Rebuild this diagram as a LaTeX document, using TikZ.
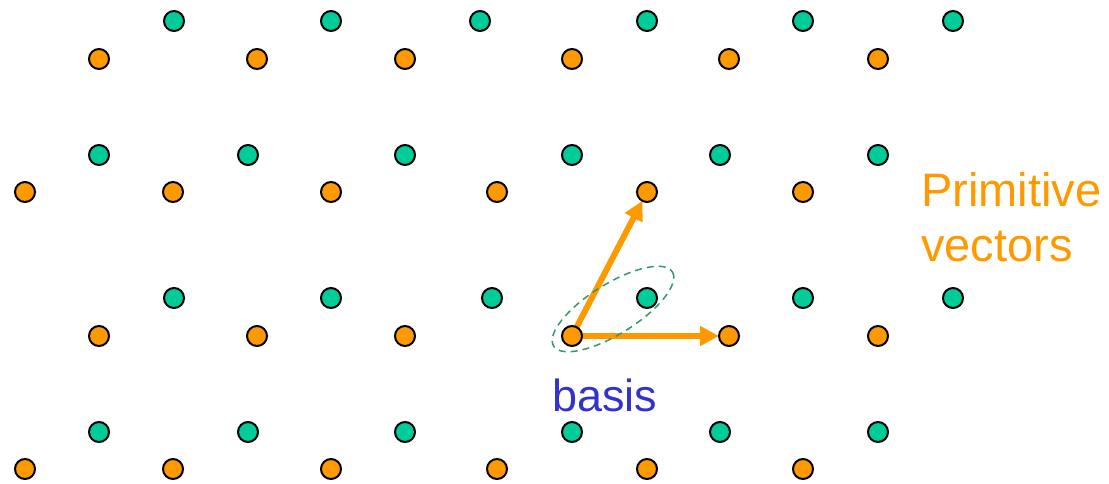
\documentclass[tikz,border=0pt]{standalone}
\usepackage{fontspec}
\setmainfont{Liberation Sans}
\usetikzlibrary{arrows.meta}
\definecolor{dotgreen}{HTML}{00CC99}
\definecolor{dotorange}{HTML}{FF9900}
\definecolor{ellgreen}{HTML}{339966}
\definecolor{basisblue}{HTML}{3333CC}
\tikzset{
  gdot/.style={circle,draw=black,line width=2pt,fill=dotgreen,minimum size=20pt,inner sep=0pt},
  odot/.style={circle,draw=black,line width=2pt,fill=dotorange,minimum size=20pt,inner sep=0pt},
  vecarrow/.style={draw=dotorange,line width=6pt,-{Triangle[length=19pt,width=19pt]},shorten >=10pt},
  basisell/.style={draw=ellgreen,line width=1.5pt,dash pattern=on 7pt off 5pt},
  lbl/.style={inner sep=0pt,anchor=base west}
}
\begin{document}
\begin{tikzpicture}[x=1pt,y=-1pt]
\useasboundingbox (0,0) rectangle (1109,483);
% arrows (behind dots)
\coordinate (o) at (572,336);
\coordinate (a1) at (647,192);
\coordinate (a2) at (729,336);
\draw[vecarrow] (o) -- (a1);
\draw[vecarrow] (o) -- (a2);
% ellipse
\draw[basisell] (613,309) ellipse[x radius=70, y radius=25, rotate=32];
% green rows
\foreach \x [count=\i] in {174,331,480,647,803,953} \node[gdot] (g1\i) at (\x,21) {};
\foreach \x [count=\i] in {99,248,405,572,720,878} \node[gdot] (g3\i) at (\x,155) {};
\foreach \x [count=\i] in {174,331,492,647,803,953} \node[gdot] (g5\i) at (\x,298) {};
\foreach \x [count=\i] in {99,248,405,572,720,878} \node[gdot] (g7\i) at (\x,432) {};
% orange rows
\foreach \x [count=\i] in {99,257,405,572,729,878} \node[odot] (o2\i) at (\x,59) {};
\foreach \x [count=\i] in {25,173,331,497,647,803} \node[odot] (o4\i) at (\x,192) {};
\foreach \x [count=\i] in {99,257,405,572,729,878} \node[odot] (o6\i) at (\x,336) {};
\foreach \x [count=\i] in {25,173,331,497,647,803} \node[odot] (o8\i) at (\x,469) {};
% labels
\node[lbl,text=dotorange,font=\fontsize{47pt}{55pt}\selectfont] (pv) at (921,206) {Primitive};
\node[lbl,text=dotorange,font=\fontsize{47pt}{55pt}\selectfont] (pv2) at (921,261) {vectors};
\node[lbl,text=basisblue,font=\fontsize{45pt}{50pt}\selectfont] (bs) at (552,411) {basis};
\end{tikzpicture}
\end{document}
